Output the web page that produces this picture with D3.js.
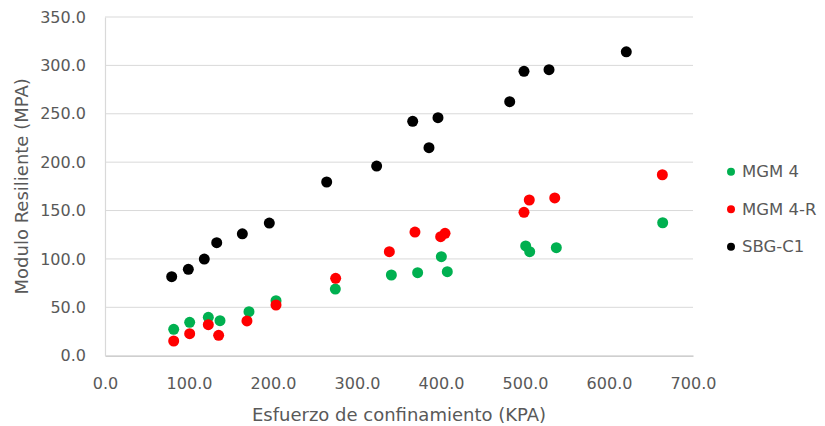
<!DOCTYPE html>
<html><head><meta charset="utf-8">
<script src="https://cdn.jsdelivr.net/npm/d3@7"></script>
<style>body{margin:0;background:#fff}svg{display:block}text{font-family:"DejaVu Sans",sans-serif;fill:#595959}</style>
</head><body>
<svg id="c" width="825" height="426"></svg>
<script>
const seriesNames = ["MGM 4", "MGM 4-R", "SBG-C1"];
const seriesColors = ["#00b050", "#ff0000", "#000000"];
const mgm4X = [81.8,100.8,123,136.9,171.4,203.6,274.2,340.9,372.2,400.4,407.5,500.8,505.6,537.3,663.9];
const mgm4Y = [27.3,34.5,39.7,36.2,45.5,56.8,68.9,83.4,85.8,102.3,86.8,113.4,107.5,111.6,137.4];
const mgm4rX = [81.8,100.8,123,135.3,169,203.6,274.6,338.5,369,399.6,404.8,498.8,505.1,535.4,663.5];
const mgm4rY = [15.2,22.7,32,21.1,35.9,52.4,80,107.5,127.8,123,126.5,148.2,160.9,163,187];
const sbgX = [79.4,99.2,118.2,133,163.5,195.6,263.9,323.4,366.3,385.7,396.4,481.8,498.8,528.6,620.6];
const sbgY = [81.6,89.3,99.9,116.8,126,137.1,179.5,196,242.2,215,246,262.5,293.9,295.6,314];
const xTicks = [0,100,200,300,400,500,600,700];
const yTicks = [0,50,100,150,200,250,300,350];
const xTitle = "Esfuerzo de confinamiento (KPA)";
const yTitle = "Modulo Resiliente (MPA)";

const series = [
  {name: seriesNames[0], color: seriesColors[0], pts: mgm4X.map((x,i)=>[x,mgm4Y[i]])},
  {name: seriesNames[1], color: seriesColors[1], pts: mgm4rX.map((x,i)=>[x,mgm4rY[i]])},
  {name: seriesNames[2], color: seriesColors[2], pts: sbgX.map((x,i)=>[x,sbgY[i]])}
];

const svg = d3.select("#c");
const L = 105, R = 693, T = 17, B = 355.7;
const x = d3.scaleLinear().domain([0,700]).range([L,R]);
const y = d3.scaleLinear().domain([0,350]).range([B,T]);

// gridlines
svg.append("g").selectAll("line").data(yTicks.filter(d=>d>0)).join("line")
  .attr("x1",L).attr("x2",R).attr("y1",d=>y(d)).attr("y2",d=>y(d))
  .attr("stroke","#d9d9d9").attr("stroke-width",1);

// axes
const xa = svg.append("g").attr("transform",`translate(0,${B})`)
  .call(d3.axisBottom(x).tickValues(xTicks).tickFormat(d3.format(".1f")).tickSize(0).tickPadding(22));
xa.select(".domain").attr("stroke","#bfbfbf").attr("stroke-width",1.2);
xa.selectAll("text").style("font-size","16px").attr("fill","#595959");

const ya = svg.append("g").attr("transform",`translate(${L},0)`)
  .call(d3.axisLeft(y).tickValues(yTicks).tickFormat(d3.format(".1f")).tickSize(0).tickPadding(19));
ya.select(".domain").attr("stroke","#d9d9d9").attr("stroke-width",1.2);
ya.selectAll("text").style("font-size","16px").attr("fill","#595959");

// titles
svg.append("text").attr("x",(L+R)/2 + 0).attr("y",421).attr("text-anchor","middle")
  .style("font-size","18px").text(xTitle);
svg.append("text").attr("transform",`translate(28,${(T+B)/2}) rotate(-90)`).attr("text-anchor","middle")
  .style("font-size","18px").text(yTitle);

// points
series.forEach(s=>{
  svg.append("g").selectAll("circle").data(s.pts).join("circle")
    .attr("cx",d=>x(d[0])).attr("cy",d=>y(d[1])).attr("r",5.5).attr("fill",s.color);
});

// legend
const lg = svg.append("g").selectAll("g").data(series).join("g")
  .attr("transform",(d,i)=>`translate(731,${171.7+i*37.5})`);
lg.append("circle").attr("r",4).attr("fill",d=>d.color);
lg.append("text").attr("x",11).attr("dy","0.35em").style("font-size","16.5px").text(d=>d.name);
</script>
</body></html>
